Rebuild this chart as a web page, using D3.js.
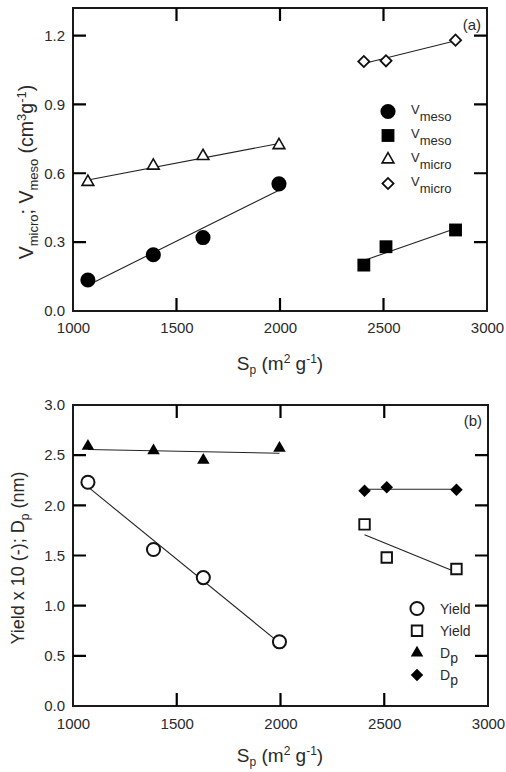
<!DOCTYPE html>
<html>
<head>
<meta charset="utf-8">
<script src="https://cdn.jsdelivr.net/npm/d3@7"></script>
<style>
  body { margin: 0; background: #fff; }
  text { font-family: "Liberation Sans", Arial, sans-serif; fill: #2a2a2a; }
</style>
</head>
<body>
<script>
var width = 506
var height = 772

// surface area S_p of the two sample groups
var sp1 = [1072, 1388, 1628, 1995]
var sp2 = [2405, 2512, 2848]

// panel (a): pore volumes (cm3/g)
var vMeso1 = [0.135, 0.245, 0.32, 0.554]
var vMeso2 = [0.20, 0.28, 0.353]
var vMicro1 = [0.562, 0.633, 0.675, 0.722]
var vMicro2 = [1.087, 1.09, 1.18]

// panel (b): yield x 10 and pore diameter (nm)
var yield1 = [2.23, 1.56, 1.28, 0.64]
var yield2 = [1.81, 1.48, 1.365]
var dp1 = [2.59, 2.545, 2.45, 2.57]
var dp2 = [2.145, 2.18, 2.155]

var xTicks = [1000, 1500, 2000, 2500, 3000]
var yTicksA = [0.0, 0.3, 0.6, 0.9, 1.2]
var yTicksB = [0.0, 0.5, 1.0, 1.5, 2.0, 2.5, 3.0]

var svg = d3.select('body').append('svg').attr('width', width).attr('height', height)

// least squares line through the points, drawn over their x range
const fitLine = (xs, ys) => {
    var mx = d3.mean(xs), my = d3.mean(ys)
    var sxy = d3.sum(xs, (x, i) => (x - mx) * (ys[i] - my))
    var sxx = d3.sum(xs, x => (x - mx) * (x - mx))
    var b = sxy / sxx
    var x0 = d3.min(xs), x1 = d3.max(xs)
    return [[x0, my + b * (x0 - mx)], [x1, my + b * (x1 - mx)]]
}

const symbolPath = (type, size) => d3.symbol().type(type).size(size)()

// marker styles
var styles = {
    circleFilled: { type: d3.symbolCircle, size: 180, fill: '#000', stroke: 'none', sw: 0 },
    squareFilled: { type: d3.symbolSquare, size: 165, fill: '#000', stroke: 'none', sw: 0 },
    triangleOpen: { type: d3.symbolTriangle, size: 60, fill: '#fff', stroke: '#111', sw: 1.6 },
    diamondOpen: { type: d3.symbolSquare, size: 62, fill: '#fff', stroke: '#111', sw: 1.8, rot: 45 },
    circleOpen: { type: d3.symbolCircle, size: 135, fill: '#fff', stroke: '#111', sw: 2 },
    squareOpen: { type: d3.symbolSquare, size: 110, fill: '#fff', stroke: '#111', sw: 1.9 },
    triangleFilled: { type: d3.symbolTriangle, size: 68, fill: '#000', stroke: 'none', sw: 0 },
    diamondFilled: { type: d3.symbolSquare, size: 78, fill: '#000', stroke: 'none', sw: 0, rot: 45 }
}

const drawMarker = (g, st, x, y) => {
    g.append('path')
        .attr('d', symbolPath(st.type, st.size))
        .attr('transform', `translate(${x},${y})` + (st.rot ? ` rotate(${st.rot})` : ''))
        .attr('fill', st.fill).attr('stroke', st.stroke).attr('stroke-width', st.sw)
}

const styleAxis = a => {
    a.select('.domain').remove()
    a.selectAll('text').attr('font-size', 15)
        .style('font-family', '"Liberation Sans", Arial, sans-serif').attr('fill', '#2a2a2a')
}

const drawPanel = p => {
    var x = d3.scaleLinear().domain([1000, 3000]).range([p.left, p.right])
    var y = d3.scaleLinear().domain(p.yDomain).range([p.bottom, p.top])
    var g = svg.append('g')

    var innerY = p.yTicks.filter(v => v > p.yDomain[0] && v < p.yDomain[1])
    var innerX = xTicks.slice(1, -1)

    // tick labels only
    g.append('g').attr('transform', `translate(${p.left},0)`)
        .call(d3.axisLeft(y).tickValues(p.yTicks).tickFormat(d3.format('.1f')).tickSize(0).tickPadding(8))
        .call(styleAxis)

    g.append('g').attr('transform', `translate(0,${p.bottom})`)
        .call(d3.axisBottom(x).tickValues(xTicks).tickFormat(d3.format('d')).tickSize(0).tickPadding(p.xPad))
        .call(styleAxis)

    g.append('rect').attr('x', p.left).attr('y', p.top)
        .attr('width', p.right - p.left).attr('height', p.bottom - p.top)
        .attr('fill', 'none').attr('stroke', '#1a1a1a').attr('stroke-width', 2)

    // inward tick marks on all four sides
    var tickPath = d3.path()
    innerY.forEach(v => {
        tickPath.moveTo(p.left, y(v)); tickPath.lineTo(p.left + 13, y(v))
        tickPath.moveTo(p.right, y(v)); tickPath.lineTo(p.right - 13, y(v))
    })
    innerX.forEach(v => {
        tickPath.moveTo(x(v), p.bottom); tickPath.lineTo(x(v), p.bottom - 13)
        tickPath.moveTo(x(v), p.top); tickPath.lineTo(x(v), p.top + 13)
    })
    g.append('path').attr('d', tickPath.toString())
        .attr('fill', 'none').attr('stroke', '#000').attr('stroke-width', 2.2)

    // fit lines then markers
    var line = d3.line().x(d => x(d[0])).y(d => y(d[1]))
    p.series.forEach(s => {
        g.append('path').attr('d', line(fitLine(s.xs, s.ys)))
            .attr('fill', 'none').attr('stroke', '#222').attr('stroke-width', 1.1)
    })
    p.series.forEach(s => {
        s.xs.forEach((v, i) => drawMarker(g, styles[s.style], x(v), y(s.ys[i])))
    })

    // legend
    p.series.forEach((s, i) => {
        var ly = p.legY + i * p.legStep
        drawMarker(g, styles[s.style], p.legX, ly)
        var t = g.append('text').attr('x', p.legX + p.legGap).attr('y', ly + p.legBase).attr('font-size', p.legFont)
        t.append('tspan').text(s.name)
        if (s.sub) t.append('tspan').attr('dy', p.legSubDy).attr('font-size', p.legFont).text(s.sub)
    })

    g.append('text').attr('x', p.right - 6).attr('y', p.top + p.tagDy)
        .attr('text-anchor', 'end').attr('font-size', 15).text(p.tag)

    // x title
    var xt = g.append('text').attr('x', p.xTitleX).attr('y', p.xTitleY).attr('text-anchor', 'middle').attr('font-size', 19)
    xt.append('tspan').text('S')
    xt.append('tspan').attr('dy', 4).attr('font-size', 12).text('p')
    xt.append('tspan').attr('dy', -4).text(' (m')
    xt.append('tspan').attr('dy', -7).attr('font-size', 12).text('2')
    xt.append('tspan').attr('dy', 7).text(' g')
    xt.append('tspan').attr('dy', -7).attr('font-size', 12).text('-1')
    xt.append('tspan').attr('dy', 7).text(')')

    // y title
    var yt = g.append('text').attr('transform', `translate(${p.yTitleX},${p.yTitleY}) rotate(-90)`)
        .attr('text-anchor', 'middle').attr('font-size', p.yTitleFont)
    p.yTitle.forEach(part => {
        yt.append('tspan').attr('dy', part.dy || 0).attr('font-size', part.fs || p.yTitleFont).text(part.t)
    })
}

drawPanel({
    left: 73, right: 487, top: 8, bottom: 311,
    yDomain: [0, 1.32], yTicks: yTicksA, xPad: 11,
    series: [
        { xs: sp1, ys: vMeso1, style: 'circleFilled', name: 'V', sub: 'meso' },
        { xs: sp2, ys: vMeso2, style: 'squareFilled', name: 'V', sub: 'meso' },
        { xs: sp1, ys: vMicro1, style: 'triangleOpen', name: 'V', sub: 'micro' },
        { xs: sp2, ys: vMicro2, style: 'diamondOpen', name: 'V', sub: 'micro' }
    ],
    legX: 388, legY: 111.5, legStep: 24, legGap: 23, legBase: 2, legFont: 13, legSubDy: 7,
    tag: '(a)', tagDy: 22,
    xTitleX: 280, xTitleY: 370,
    yTitleX: 33, yTitleY: 172, yTitleFont: 19.5,
    yTitle: [
        { t: 'V' }, { t: 'micro', fs: 13, dy: 5 }, { t: '; V', dy: -5 }, { t: 'meso', fs: 13, dy: 5 },
        { t: ' (cm', dy: -5 }, { t: '3', fs: 13, dy: -7 }, { t: 'g', dy: 7 }, { t: '-1', fs: 13, dy: -7 }, { t: ')', dy: 7 }
    ]
})

drawPanel({
    left: 73, right: 488, top: 405, bottom: 706,
    yDomain: [0, 3.0], yTicks: yTicksB, xPad: 12,
    series: [
        { xs: sp1, ys: yield1, style: 'circleOpen', name: 'Yield' },
        { xs: sp2, ys: yield2, style: 'squareOpen', name: 'Yield' },
        { xs: sp1, ys: dp1, style: 'triangleFilled', name: 'D', sub: 'p' },
        { xs: sp2, ys: dp2, style: 'diamondFilled', name: 'D', sub: 'p' }
    ],
    legX: 417, legY: 608.5, legStep: 22.2, legGap: 23, legBase: 5, legFont: 14, legSubDy: 5,
    tag: '(b)', tagDy: 21,
    xTitleX: 280, xTitleY: 762,
    yTitleX: 24, yTitleY: 558, yTitleFont: 18,
    yTitle: [
        { t: 'Yield x 10 (-); D' }, { t: 'p', fs: 12, dy: 5 }, { t: ' (nm)', dy: -5 }
    ]
})
</script>
</body>
</html>
